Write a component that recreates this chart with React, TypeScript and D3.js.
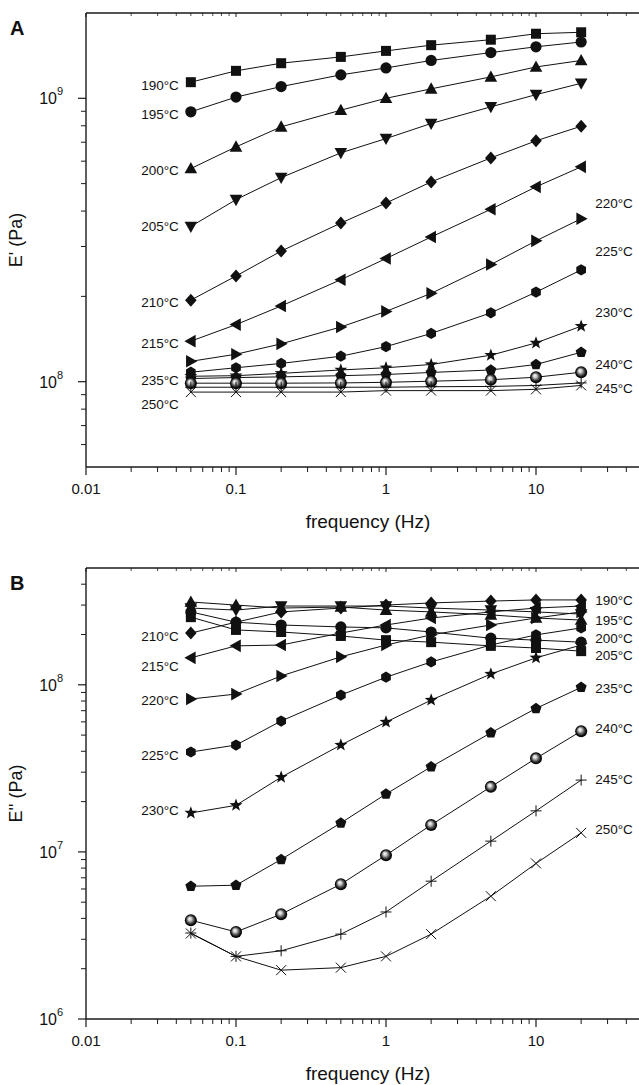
import React from 'react';
import * as d3 from 'd3';

// ---------- data ----------
const frequencies = [0.05, 0.1, 0.2, 0.5, 1, 2, 5, 10, 20];
const temperatures = [190, 195, 200, 205, 210, 215, 220, 225, 230, 235, 240, 245, 250];
const markerTypes = ['square', 'circle', 'triUp', 'triDown', 'diamond', 'triLeft', 'triRight', 'hexagon', 'star', 'pentagon', 'sphere', 'plus', 'cross'];

// Storage modulus E' (Pa), panel A
const storage190 = [1.14e9, 1.25e9, 1.33e9, 1.40e9, 1.47e9, 1.54e9, 1.61e9, 1.69e9, 1.71e9];
const storage195 = [8.96e8, 1.01e9, 1.10e9, 1.21e9, 1.28e9, 1.36e9, 1.45e9, 1.52e9, 1.58e9];
const storage200 = [5.65e8, 6.74e8, 7.93e8, 9.08e8, 1.0e9, 1.08e9, 1.19e9, 1.29e9, 1.36e9];
const storage205 = [3.53e8, 4.39e8, 5.25e8, 6.42e8, 7.21e8, 8.15e8, 9.33e8, 1.03e9, 1.13e9];
const storage210 = [1.94e8, 2.36e8, 2.89e8, 3.63e8, 4.27e8, 5.07e8, 6.16e8, 7.08e8, 7.97e8];
const storage215 = [1.39e8, 1.59e8, 1.85e8, 2.29e8, 2.72e8, 3.24e8, 4.06e8, 4.87e8, 5.73e8];
const storage220 = [1.18e8, 1.25e8, 1.36e8, 1.56e8, 1.77e8, 2.05e8, 2.59e8, 3.14e8, 3.76e8];
const storage225 = [1.08e8, 1.12e8, 1.16e8, 1.23e8, 1.33e8, 1.48e8, 1.75e8, 2.07e8, 2.48e8];
const storage230 = [1.045e8, 1.05e8, 1.07e8, 1.10e8, 1.12e8, 1.15e8, 1.24e8, 1.37e8, 1.57e8];
const storage235 = [1.026e8, 1.034e8, 1.04e8, 1.05e8, 1.06e8, 1.078e8, 1.10e8, 1.15e8, 1.27e8];
const storage240 = [9.88e7, 9.88e7, 9.88e7, 9.9e7, 9.95e7, 1.004e8, 1.016e8, 1.037e8, 1.08e8];
const storage245 = [9.56e7, 9.56e7, 9.56e7, 9.56e7, 9.56e7, 9.6e7, 9.62e7, 9.7e7, 9.9e7];
const storage250 = [9.19e7, 9.19e7, 9.19e7, 9.19e7, 9.3e7, 9.3e7, 9.3e7, 9.4e7, 9.7e7];

// Loss modulus E'' (Pa), panel B
const loss190 = [2.54e8, 2.13e8, 2.07e8, 1.96e8, 1.85e8, 1.80e8, 1.71e8, 1.66e8, 1.59e8];
const loss195 = [2.73e8, 2.37e8, 2.28e8, 2.22e8, 2.19e8, 2.07e8, 1.90e8, 1.85e8, 1.80e8];
const loss200 = [3.13e8, 3.00e8, 2.88e8, 2.92e8, 2.80e8, 2.73e8, 2.62e8, 2.51e8, 2.44e8];
const loss205 = [2.88e8, 2.80e8, 2.96e8, 2.96e8, 2.96e8, 2.88e8, 2.80e8, 2.73e8, 2.65e8];
const loss210 = [2.04e8, 2.37e8, 2.73e8, 2.88e8, 3.00e8, 3.09e8, 3.17e8, 3.22e8, 3.22e8];
const loss215 = [1.45e8, 1.71e8, 1.73e8, 2.04e8, 2.28e8, 2.51e8, 2.73e8, 2.88e8, 2.96e8];
const loss220 = [8.22e7, 8.80e7, 1.13e8, 1.47e8, 1.73e8, 1.99e8, 2.28e8, 2.51e8, 2.73e8];
const loss225 = [3.96e7, 4.36e7, 6.07e7, 8.68e7, 1.11e8, 1.37e8, 1.73e8, 1.99e8, 2.19e8];
const loss230 = [1.71e7, 1.90e7, 2.80e7, 4.36e7, 5.98e7, 8.10e7, 1.16e8, 1.45e8, 1.73e8];
const loss235 = [6.23e6, 6.32e6, 9.01e6, 1.49e7, 2.22e7, 3.23e7, 5.16e7, 7.22e7, 9.65e7];
const loss240 = [3.90e6, 3.32e6, 4.24e6, 6.41e6, 9.56e6, 1.45e7, 2.45e7, 3.63e7, 5.28e7];
const loss245 = [3.27e6, 2.37e6, 2.56e6, 3.22e6, 4.37e6, 6.68e6, 1.16e7, 1.76e7, 2.69e7];
const loss250 = [3.25e6, 2.37e6, 1.96e6, 2.03e6, 2.37e6, 3.22e6, 5.43e6, 8.53e6, 1.30e7];

const storageSeries = [storage190, storage195, storage200, storage205, storage210, storage215, storage220, storage225, storage230, storage235, storage240, storage245, storage250];
const lossSeries = [loss190, loss195, loss200, loss205, loss210, loss215, loss220, loss225, loss230, loss235, loss240, loss245, loss250];

// Series labels: temperature, side, vertical position in data units
const storageLabelTemps = [190, 195, 200, 205, 210, 215, 235, 250, 220, 225, 230, 240, 245];
const storageLabelSides = ['L', 'L', 'L', 'L', 'L', 'L', 'L', 'L', 'R', 'R', 'R', 'R', 'R'];
const storageLabelValues = [1.11e9, 8.8e8, 5.58e8, 3.54e8, 1.91e8, 1.37e8, 1.01e8, 8.34e7, 4.27e8, 2.89e8, 1.76e8, 1.155e8, 9.5e7];

const lossLabelTemps = [210, 215, 220, 225, 230, 190, 195, 200, 205, 235, 240, 245, 250];
const lossLabelSides = ['L', 'L', 'L', 'L', 'L', 'R', 'R', 'R', 'R', 'R', 'R', 'R', 'R'];
const lossLabelValues = [1.96e8, 1.30e8, 8.11e7, 3.8e7, 1.78e7, 3.2e8, 2.43e8, 1.9e8, 1.5e8, 9.57e7, 5.5e7, 2.73e7, 1.37e7];

const xTickValues = [0.01, 0.1, 1, 10, 100];
const xTickLabels = ['0.01', '0.1', '1', '10', ''];
const storageYTicks = [1e8, 1e9];
const storageYExponents = ['8', '9'];
const lossYTicks = [1e6, 1e7, 1e8];
const lossYExponents = ['6', '7', '8'];

// ---------- drawing helpers ----------
const FONT = "'Liberation Sans', Arial, Helvetica, sans-serif";

function polygon(n: number, r: number, startDeg: number) {
  const pts: [number, number][] = [];
  for (let k = 0; k < n; k++) {
    const a = ((startDeg + (360 / n) * k) * Math.PI) / 180;
    pts.push([r * Math.cos(a), r * Math.sin(a)]);
  }
  return 'M' + pts.map((p) => p[0].toFixed(2) + ',' + p[1].toFixed(2)).join('L') + 'Z';
}

function starPath(ro: number, ri: number) {
  const pts: [number, number][] = [];
  for (let k = 0; k < 10; k++) {
    const r = k % 2 === 0 ? ro : ri;
    const a = ((-90 + 36 * k) * Math.PI) / 180;
    pts.push([r * Math.cos(a), r * Math.sin(a)]);
  }
  return 'M' + pts.map((p) => p[0].toFixed(2) + ',' + p[1].toFixed(2)).join('L') + 'Z';
}

function Marker({ type, x, y }: { type: string; x: number; y: number }) {
  const t = `translate(${x},${y})`;
  switch (type) {
    case 'square':
      return <rect x={x - 5} y={y - 5} width={10} height={10} fill="#111" />;
    case 'circle':
      return <circle cx={x} cy={y} r={5.6} fill="#111" />;
    case 'triUp':
      return <path transform={t} d="M0,-6.5L6.3,4.8L-6.3,4.8Z" fill="#111" />;
    case 'triDown':
      return <path transform={t} d="M0,6.5L6.3,-4.8L-6.3,-4.8Z" fill="#111" />;
    case 'triLeft':
      return <path transform={t} d="M-6.5,0L4.8,-6.3L4.8,6.3Z" fill="#111" />;
    case 'triRight':
      return <path transform={t} d="M6.5,0L-4.8,-6.3L-4.8,6.3Z" fill="#111" />;
    case 'diamond':
      return <path transform={t} d="M0,-6.5L5.8,0L0,6.5L-5.8,0Z" fill="#111" />;
    case 'hexagon':
      return <path transform={t} d={polygon(6, 5.6, -90)} fill="#111" />;
    case 'pentagon':
      return <path transform={t} d={polygon(5, 5.8, -90)} fill="#111" />;
    case 'star':
      return <path transform={t} d={starPath(6.8, 2.8)} fill="#111" />;
    case 'sphere':
      return <circle cx={x} cy={y} r={6} fill="url(#sphereGrad)" />;
    case 'plus':
      return <path transform={t} d="M-5.5,0H5.5M0,-5.5V5.5" stroke="#111" strokeWidth={1} fill="none" />;
    case 'cross':
      return <path transform={t} d="M-5,-5L5,5M-5,5L5,-5" stroke="#111" strokeWidth={1} fill="none" />;
    default:
      return null;
  }
}

type PanelProps = {
  top: number;
  bottom: number;
  yDomain: [number, number];
  series: number[][];
  yTicks: number[];
  yExponents: string[];
  yTitle: string;
  letter: string;
  labelTemps: number[];
  labelSides: string[];
  labelValues: number[];
};

function Panel(p: PanelProps) {
  const left = 86;
  const x = d3.scaleLog().domain([0.01, 100]).range([left, 686]);
  const y = d3.scaleLog().domain(p.yDomain).range([p.bottom, p.top]);
  const line = d3
    .line<number>()
    .x((_, i) => x(frequencies[i]))
    .y((d) => y(d));

  const xMinor: number[] = [];
  for (let e = -2; e < 2; e++) for (let m = 2; m <= 9; m++) xMinor.push(m * Math.pow(10, e));
  const yMinor: number[] = [];
  const lo = Math.floor(Math.log10(p.yDomain[0]));
  const hi = Math.ceil(Math.log10(p.yDomain[1]));
  for (let e = lo; e < hi; e++)
    for (let m = 2; m <= 9; m++) {
      const v = m * Math.pow(10, e);
      if (v > p.yDomain[0] * 1.0001 && v < p.yDomain[1] * 0.9999) yMinor.push(v);
    }
  const axisColor = '#1a1a1a';
  const midY = (p.top + p.bottom) / 2;

  return (
    <g>
      <line x1={left} x2={700} y1={p.top} y2={p.top} stroke={axisColor} strokeWidth={1.4} />
      <line x1={left} x2={700} y1={p.bottom} y2={p.bottom} stroke={axisColor} strokeWidth={1.4} />
      <line x1={left} x2={left} y1={p.top} y2={p.bottom} stroke={axisColor} strokeWidth={1.4} />
      {xTickValues.map((v) => (
        <g key={'xt' + v}>
          <line x1={x(v)} x2={x(v)} y1={p.bottom} y2={p.bottom + 8} stroke={axisColor} strokeWidth={1.2} />
          <line x1={x(v)} x2={x(v)} y1={p.top} y2={p.top + 4} stroke={axisColor} strokeWidth={1} />
        </g>
      ))}
      {xMinor.map((v) => (
        <g key={'xm' + v}>
          <line x1={x(v)} x2={x(v)} y1={p.bottom} y2={p.bottom + 5} stroke={axisColor} strokeWidth={1} />
          <line x1={x(v)} x2={x(v)} y1={p.top} y2={p.top + 3} stroke={axisColor} strokeWidth={0.8} />
        </g>
      ))}
      {xTickValues.map((v, i) =>
        xTickLabels[i] ? (
          <text key={'xl' + v} x={x(v)} y={p.bottom + 27} textAnchor="middle" fontFamily={FONT} fontSize={15} fill="#111">
            {xTickLabels[i]}
          </text>
        ) : null
      )}
      <text x={368} y={p.bottom + 61} textAnchor="middle" fontFamily={FONT} fontSize={19} fill="#111">
        frequency (Hz)
      </text>
      {p.yTicks.map((v, i) => (
        <g key={'yt' + v}>
          <line x1={left - 8} x2={left} y1={y(v)} y2={y(v)} stroke={axisColor} strokeWidth={1.2} />
          <text x={left - 29} y={y(v) + 6} textAnchor="end" fontFamily={FONT} fontSize={16} fill="#111">
            10
          </text>
          <text x={left - 29} y={y(v) - 3} textAnchor="start" fontFamily={FONT} fontSize={11} fill="#111">
            {p.yExponents[i]}
          </text>
        </g>
      ))}
      {yMinor.map((v) => (
        <line key={'ym' + v} x1={left - 5} x2={left} y1={y(v)} y2={y(v)} stroke={axisColor} strokeWidth={1} />
      ))}
      <text
        transform={`translate(22,${midY}) rotate(-90)`}
        textAnchor="middle"
        fontFamily={FONT}
        fontSize={18}
        fill="#111"
      >
        {p.yTitle}
      </text>
      <text x={10} y={p.top + 22} fontFamily={FONT} fontSize={20} fontWeight="bold" fill="#111">
        {p.letter}
      </text>
      {p.series.map((s, i) => (
        <path key={'ln' + i} d={line(s) || ''} fill="none" stroke="#111" strokeWidth={1} />
      ))}
      {p.series.map((s, i) =>
        s.map((v, j) => <Marker key={'mk' + i + '-' + j} type={markerTypes[i]} x={x(frequencies[j])} y={y(v)} />)
      )}
      {p.labelTemps.map((t, i) => {
        const isLeft = p.labelSides[i] === 'L';
        return (
          <text
            key={'lb' + t}
            x={isLeft ? x(frequencies[0]) - 12 : x(frequencies[frequencies.length - 1]) + 14}
            y={y(p.labelValues[i]) + 5}
            textAnchor={isLeft ? 'end' : 'start'}
            fontFamily={FONT}
            fontSize={13.5}
            fill="#111"
          >
            {t + '°C'}
          </text>
        );
      })}
    </g>
  );
}

export default function App() {
  return (
    <svg
      width={639}
      height={1085}
      viewBox="0 0 639 1085"
      style={{ position: 'absolute', left: 0, top: 0, background: '#fff' }}
      xmlns="http://www.w3.org/2000/svg"
    >
      <defs>
        <radialGradient id="sphereGrad" cx="50%" cy="50%" r="50%" fx="38%" fy="35%">
          <stop offset="0%" stopColor="#ffffff" />
          <stop offset="30%" stopColor="#c8c8c8" />
          <stop offset="60%" stopColor="#555" />
          <stop offset="85%" stopColor="#0a0a0a" />
          <stop offset="100%" stopColor="#000" />
        </radialGradient>
      </defs>
      <rect x={0} y={0} width={639} height={1085} fill="#fff" />
      <Panel
        top={13}
        bottom={467}
        yDomain={[5e7, 2e9]}
        series={storageSeries}
        yTicks={storageYTicks}
        yExponents={storageYExponents}
        yTitle="E' (Pa)"
        letter="A"
        labelTemps={storageLabelTemps}
        labelSides={storageLabelSides}
        labelValues={storageLabelValues}
      />
      <Panel
        top={568}
        bottom={1019}
        yDomain={[1e6, 5e8]}
        series={lossSeries}
        yTicks={lossYTicks}
        yExponents={lossYExponents}
        yTitle="E'' (Pa)"
        letter="B"
        labelTemps={lossLabelTemps}
        labelSides={lossLabelSides}
        labelValues={lossLabelValues}
      />
    </svg>
  );
}
